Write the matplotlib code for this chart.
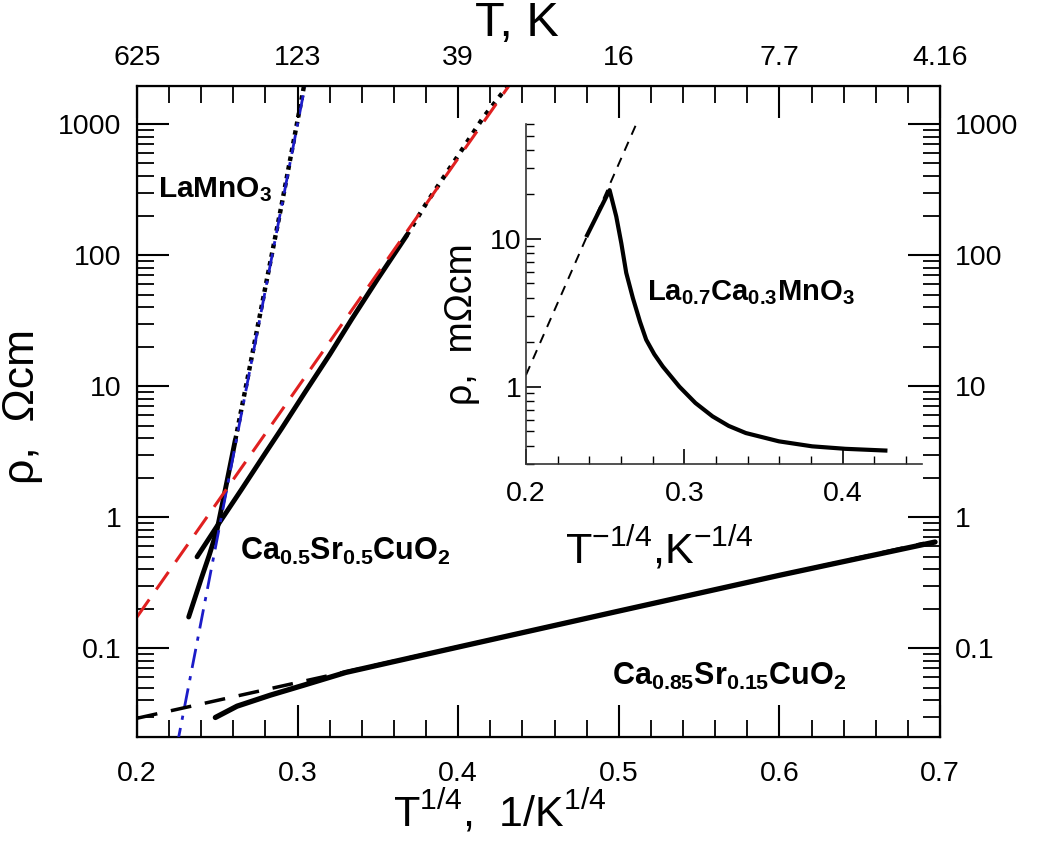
import numpy as np
import matplotlib
matplotlib.use('Agg')
import matplotlib.pyplot as plt
from matplotlib.ticker import FixedLocator, MultipleLocator, LogLocator, NullFormatter

plt.rcParams['font.family'] = ['Liberation Sans', 'DejaVu Sans']
plt.rcParams['mathtext.fontset'] = 'custom'
plt.rcParams['mathtext.rm'] = 'Liberation Sans'
plt.rcParams['mathtext.it'] = 'Liberation Sans'
plt.rcParams['mathtext.bf'] = 'Liberation Sans:bold'

# ---------------- data (main panel) ----------------
# LaMnO3 (T^-1/4, rho in Ohm cm)
lamno3_x_thick = [0.2322, 0.2400, 0.2450, 0.2498, 0.2555, 0.2612]
lamno3_rho_thick = [0.173, 0.339, 0.513, 0.794, 1.74, 3.87]
lamno3_x_dots = [0.2612, 0.2700, 0.2800, 0.2900, 0.3000, 0.3040]
lamno3_rho_dots = [3.87, 13.5, 57.5, 240, 1070, 1950]
# blue dash-dot fit (two end points of the straight fit)
fit_blue_x = [0.2200, 0.3100]
fit_blue_rho = [0.00879, 4285]

# Ca0.5Sr0.5CuO2
ca05_x_thick = [0.2374, 0.2498, 0.2650, 0.2800, 0.2903, 0.3050, 0.3200, 0.3337, 0.3500, 0.3679]
ca05_rho_thick = [0.498, 0.851, 1.62, 3.09, 4.79, 9.12, 17.4, 32.4, 66.1, 141]
ca05_x_dots = [0.3679, 0.3804, 0.4011, 0.4156, 0.4302]
ca05_rho_dots = [141, 251, 603, 1122, 1905]
# red dashed fit
fit_red_x = [0.2000, 0.4400]
fit_red_rho = [0.173, 2748]

# Ca0.85Sr0.15CuO2
ca085_x = [0.2488, 0.2623, 0.2830, 0.3038, 0.3300, 0.4000, 0.5000, 0.6000, 0.6969]
ca085_rho = [0.0296, 0.0361, 0.0438, 0.0522, 0.0653, 0.102, 0.192, 0.360, 0.646]
# black dashed fit
fit_black_x = [0.2000, 0.6900]
fit_black_rho = [0.0292, 0.632]

# ---------------- data (inset) ----------------
lcmo_x = [0.2386, 0.2528, 0.2570, 0.2602, 0.2633, 0.2675, 0.2720, 0.2759, 0.2810,
          0.2864, 0.2969, 0.3070, 0.3178, 0.3280, 0.3388, 0.3597, 0.3807, 0.4017, 0.4269]
lcmo_rho = [10.6, 21.4, 14.2, 9.35, 5.9, 3.98, 2.75, 2.08, 1.66,
            1.37, 1.00, 0.776, 0.63, 0.543, 0.486, 0.427, 0.395, 0.380, 0.370]
fit_inset_x = [0.2000, 0.2696]
fit_inset_rho = [1.20, 59.8]

# ---------------- ticks ----------------
x_ticks = [0.2, 0.3, 0.4, 0.5, 0.6, 0.7]
x_ticklabels = ['0.2', '0.3', '0.4', '0.5', '0.6', '0.7']
top_T_labels = ['625', '123', '39', '16', '7.7', '4.16']
y_ticks = [0.1, 1, 10, 100, 1000]
y_ticklabels = ['0.1', '1', '10', '100', '1000']
inset_x_ticks = [0.2, 0.3, 0.4]
inset_x_ticklabels = ['0.2', '0.3', '0.4']
inset_y_ticks = [1, 10]
inset_y_ticklabels = ['1', '10']

TICKFS = 20.5
fig = plt.figure(figsize=(10.44, 8.61), dpi=100)
ax = fig.add_axes([0.1312, 0.1440, 0.7692, 0.7561])
ax.set_yscale('log')
ax.set_xlim(0.2, 0.7)
ax.set_ylim(0.021, 1950)

# data
ax.plot(lamno3_x_thick, lamno3_rho_thick, color='black', lw=3.5, solid_capstyle='round', zorder=3)
ax.plot(lamno3_x_dots, lamno3_rho_dots, color='black', lw=3.2, ls=(0, (1, 1)), zorder=3)
ax.plot(fit_blue_x, fit_blue_rho, color='#1c1cc8', lw=2.0, ls=(0, (7, 3, 1.5, 3)), zorder=4)

ax.plot(ca05_x_thick, ca05_rho_thick, color='black', lw=3.5, solid_capstyle='round', zorder=3)
ax.plot(ca05_x_dots, ca05_rho_dots, color='black', lw=3.2, ls=(0, (1, 1.5)), zorder=3)
ax.plot(fit_red_x, fit_red_rho, color='#e02020', lw=2.2, ls=(0, (7, 4)), zorder=4)

ax.plot(ca085_x, ca085_rho, color='black', lw=3.8, solid_capstyle='round', zorder=3)
ax.plot(fit_black_x, fit_black_rho, color='black', lw=2.5, ls=(0, (6, 4)), zorder=4)

# labels on curves
ax.text(0.213, 276, r'$\mathbf{LaMnO_3}$', fontsize=21.5, va='baseline', ha='left')
ax.text(0.264, 0.47, r'$\mathbf{Ca_{0.5}Sr_{0.5}CuO_2}$', fontsize=22, va='baseline', ha='left')
ax.text(0.4958, 0.0522, r'$\mathbf{Ca_{0.85}Sr_{0.15}CuO_2}$', fontsize=22, va='baseline', ha='left')

# ticks main
ax.xaxis.set_major_locator(FixedLocator(x_ticks))
ax.set_xticklabels(x_ticklabels)
ax.xaxis.set_minor_locator(MultipleLocator(0.02))
ax.yaxis.set_major_locator(FixedLocator(y_ticks))
ax.set_yticklabels(y_ticklabels)
ax.yaxis.set_minor_locator(LogLocator(base=10, subs=np.arange(2, 10), numticks=20))
ax.yaxis.set_minor_formatter(NullFormatter())
ax.tick_params(which='major', direction='in', length=23, width=1.5, labelsize=TICKFS,
               left=True, right=True, labelright=True, bottom=True, top=False, pad=11)
ax.tick_params(axis='x', which='major', pad=17)
ax.tick_params(which='minor', direction='in', length=12, width=1.3,
               left=True, right=True, bottom=True, top=False)
for s in ax.spines.values():
    s.set_linewidth(1.6)
ax.set_ylabel(r'ρ,  Ωcm', fontsize=32, labelpad=6)
ax.yaxis.set_label_coords(-0.117, 0.508)
fig.text(500 / 1044, 1 - 812 / 861, r'T$^{1/4}$,  1/K$^{1/4}$', fontsize=31,
         ha='center', va='center')

# top axis
tw = ax.twiny()
tw.set_xlim(0.2, 0.7)
tw.xaxis.set_major_locator(FixedLocator(x_ticks))
tw.set_xticklabels(top_T_labels)
tw.xaxis.set_minor_locator(MultipleLocator(0.02))
tw.tick_params(which='major', direction='in', length=23, width=1.5, labelsize=TICKFS, pad=11)
tw.tick_params(which='minor', direction='in', length=12, width=1.3)
fig.text(517 / 1044, 1 - 24 / 861, 'T, K', fontsize=35, ha='center', va='center')

# ---------------- inset ----------------
axi = fig.add_axes([0.5038, 0.4611, 0.3793, 0.3949])
axi.set_facecolor('none')
axi.set_yscale('log')
axi.set_xlim(0.2, 0.45)
axi.set_ylim(0.3, 60)
axi.plot(lcmo_x, lcmo_rho, color='black', lw=3.0, solid_joinstyle='round')
axi.plot(fit_inset_x, fit_inset_rho, color='black', lw=1.4, ls=(0, (5, 4)))
axi.text(0.2761, 3.87, r'$\mathbf{La_{0.7}Ca_{0.3}MnO_3}$', fontsize=21, va='baseline', ha='left')
axi.spines['top'].set_visible(False)
axi.spines['right'].set_visible(False)
for s in ['left', 'bottom']:
    axi.spines[s].set_linewidth(1.2)
    axi.spines[s].set_color('#333333')
axi.xaxis.set_major_locator(FixedLocator(inset_x_ticks))
axi.set_xticklabels(inset_x_ticklabels)
axi.xaxis.set_minor_locator(MultipleLocator(0.02))
axi.yaxis.set_major_locator(FixedLocator(inset_y_ticks))
axi.set_yticklabels(inset_y_ticklabels)
axi.yaxis.set_minor_locator(LogLocator(base=10, subs=np.arange(2, 10), numticks=20))
axi.yaxis.set_minor_formatter(NullFormatter())
axi.tick_params(which='major', direction='in', length=11, width=1.2, labelsize=TICKFS,
                top=False, right=False)
axi.tick_params(axis='x', which='major', pad=12)
axi.tick_params(axis='y', which='major', pad=3)
axi.tick_params(which='minor', direction='in', length=6, width=1.0, top=False, right=False)
axi.set_xlabel(r'T$^{-1/4}$,K$^{-1/4}$', fontsize=31)
axi.xaxis.set_label_coords(0.338, -0.18)
axi.set_ylabel(r'ρ,  mΩcm', fontsize=27)
axi.yaxis.set_label_coords(-0.117, 0.41)

fig.savefig('out.png', dpi=100)
